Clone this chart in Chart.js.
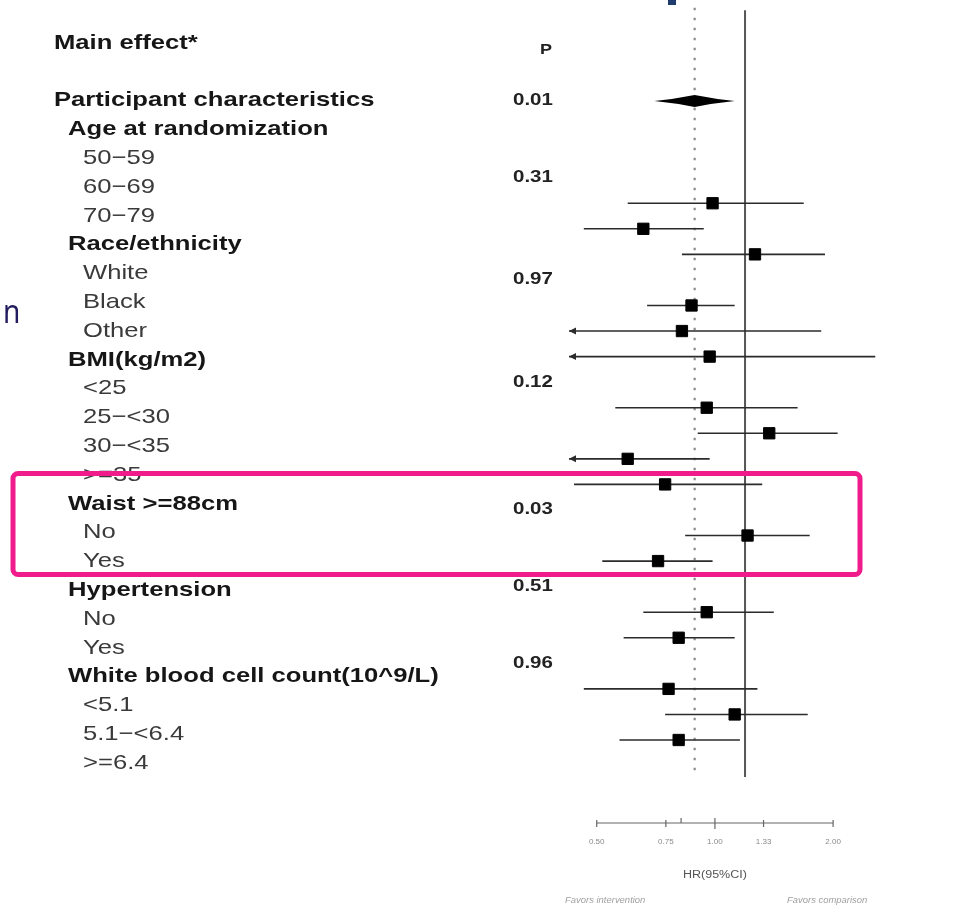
<!DOCTYPE html>
<html>
<head>
<meta charset="utf-8" />
<title>Forest plot</title>
<script src="https://cdn.jsdelivr.net/npm/chart.js@4.4.1/dist/chart.umd.min.js"></script>
<style>
    body {
        margin: 0;
        background: #ffffff;
    }
    #wrap {
        width: 976px;
        height: 909px;
    }
</style>
</head>
<body>
<div id="wrap"><canvas id="forest" width="976" height="909"></canvas></div>
<script>
    // left column, one entry per text row (level 0/1 = heading, 2 = sub item)
    const labelText = [
        'Main effect*', '',
        'Participant characteristics',
        'Age at randomization', '50\u221259', '60\u221269', '70\u221279',
        'Race/ethnicity', 'White', 'Black', 'Other',
        'BMI(kg/m2)', '<25', '25\u2212<30', '30\u2212<35', '>=35',
        'Waist >=88cm', 'No', 'Yes',
        'Hypertension', 'No', 'Yes',
        'White blood cell count(10^9/L)', '<5.1', '5.1\u2212<6.4', '>=6.4'
    ];
    const labelLevel = [0, 0, 0, 1, 2, 2, 2, 1, 2, 2, 2, 1, 2, 2, 2, 2, 1, 2, 2, 1, 2, 2, 1, 2, 2, 2];

    // P for interaction, placed on plot rows
    const pRows = [0, 3, 7, 11, 16, 19, 22];
    const pValues = ['0.01', '0.31', '0.97', '0.12', '0.03', '0.51', '0.96'];

    // main effect (diamond)
    const mainHR = 0.82;
    const mainLo = 0.70;
    const mainHi = 0.96;

    // subgroup estimates, hazard ratios with 95% CI, on plot rows
    const forestRows = [4, 5, 6, 8, 9, 10, 12, 13, 14, 15, 17, 18, 20, 21, 23, 24, 25];
    const hr    = [0.88, 0.67, 1.04, 0.81, 0.78, 0.87, 0.86, 1.10, 0.63, 0.73, 1.01, 0.71, 0.86, 0.77, 0.74, 0.96, 0.77];
    const lower = [0.63, 0.53, 0.78, 0.68, 0.45, 0.45, 0.60, 0.83, 0.45, 0.51, 0.79, 0.57, 0.67, 0.62, 0.53, 0.73, 0.61];
    const upper = [1.26, 0.85, 1.37, 0.96, 1.35, 1.67, 1.23, 1.44, 0.87, 1.07, 1.29, 0.88, 1.12, 0.96, 1.05, 1.28, 0.98];
    const plotMin = 0.5; // CIs below this get an arrow

    // the small HR axis under the plot
    const axisTicks = [0.5, 0.75, 1, 1.33, 2];
    const axisTickLabels = ['0.50', '0.75', '1.00', '1.33', '2.00'];

    const FONT = '"Liberation Sans", Arial, sans-serif';
    const indent = [54, 68, 83];

    function drawText(ctx, str, x, y, font, color, sx, align) {
        ctx.save();
        ctx.translate(x, y);
        ctx.scale(sx, 1);
        ctx.font = font;
        ctx.fillStyle = color;
        ctx.textAlign = align;
        ctx.textBaseline = 'middle';
        ctx.fillText(str, 0, 0);
        ctx.restore();
    }

    const forestPlugin = {
        id: 'forest',
        beforeDatasetsDraw(chart) {
            const ctx = chart.ctx;
            const x = chart.scales.x, y = chart.scales.y;
            const x2 = chart.scales.x2, y2 = chart.scales.y2;

            // labels
            labelText.forEach((t, i) => {
                if (!t) return;
                const lv = labelLevel[i];
                const bold = lv < 2;
                drawText(ctx, t, indent[lv], y2.getPixelForValue(i),
                    (bold ? 'bold ' : '') + '21px ' + FONT,
                    bold ? '#161616' : '#3a3a3a', 1.22, 'left');
            });

            // P column
            drawText(ctx, 'P', 546, y.getPixelForValue(-2), 'bold 15px ' + FONT, '#222', 1.2, 'center');
            pRows.forEach((r, i) => {
                drawText(ctx, pValues[i], 513, y.getPixelForValue(r), 'bold 16px ' + FONT, '#222', 1.28, 'left');
            });

            // reference lines
            ctx.save();
            ctx.strokeStyle = '#8a8a8a';
            ctx.lineWidth = 2.2;
            ctx.setLineDash([2.5, 7.5]);
            let px = x.getPixelForValue(mainHR);
            ctx.beginPath();
            ctx.moveTo(px, y.getPixelForValue(-3.65));
            ctx.lineTo(px, y.getPixelForValue(26.4));
            ctx.stroke();
            ctx.setLineDash([]);
            ctx.strokeStyle = '#555';
            ctx.lineWidth = 2;
            px = x.getPixelForValue(1);
            ctx.beginPath();
            ctx.moveTo(px, y.getPixelForValue(-3.55));
            ctx.lineTo(px, y.getPixelForValue(26.45));
            ctx.stroke();

            // confidence intervals
            ctx.strokeStyle = '#2b2b2b';
            ctx.fillStyle = '#2b2b2b';
            ctx.lineWidth = 1.6;
            forestRows.forEach((r, i) => {
                const py = y.getPixelForValue(r);
                const lo = Math.max(lower[i], plotMin);
                const xl = x.getPixelForValue(lo);
                ctx.beginPath();
                ctx.moveTo(xl, py);
                ctx.lineTo(x.getPixelForValue(upper[i]), py);
                ctx.stroke();
                if (lower[i] < plotMin) {
                    ctx.beginPath();
                    ctx.moveTo(xl, py);
                    ctx.lineTo(xl + 7, py - 3.5);
                    ctx.lineTo(xl + 7, py + 3.5);
                    ctx.closePath();
                    ctx.fill();
                }
            });

            // main effect diamond
            const dy = y.getPixelForValue(0);
            const dl = x.getPixelForValue(mainLo), dc = x.getPixelForValue(mainHR), dr = x.getPixelForValue(mainHi);
            ctx.fillStyle = '#000';
            ctx.beginPath();
            ctx.moveTo(dl, dy);
            ctx.quadraticCurveTo((dl + dc) / 2, dy - 2, dc, dy - 6);
            ctx.quadraticCurveTo((dc + dr) / 2, dy - 2, dr, dy);
            ctx.quadraticCurveTo((dc + dr) / 2, dy + 2, dc, dy + 6);
            ctx.quadraticCurveTo((dl + dc) / 2, dy + 2, dl, dy);
            ctx.fill();

            // small HR axis
            const ay = 823;
            ctx.strokeStyle = '#666';
            ctx.lineWidth = 1.2;
            ctx.beginPath();
            ctx.moveTo(x2.getPixelForValue(axisTicks[0]), ay);
            ctx.lineTo(x2.getPixelForValue(axisTicks[axisTicks.length - 1]), ay);
            ctx.stroke();
            axisTicks.forEach((t, i) => {
                const tx = x2.getPixelForValue(t);
                ctx.beginPath();
                ctx.moveTo(tx, ay - (t === 1 ? 5 : 3));
                ctx.lineTo(tx, ay + (t === 1 ? 6 : 4));
                ctx.stroke();
                drawText(ctx, axisTickLabels[i], tx, 842, '7px ' + FONT, '#8a8a8a', 1.15, 'center');
            });
            const mx = x2.getPixelForValue(mainHR);
            ctx.beginPath();
            ctx.moveTo(mx, ay - 5);
            ctx.lineTo(mx, ay);
            ctx.stroke();
            ctx.restore();

            drawText(ctx, 'HR(95%CI)', x2.getPixelForValue(1), 875, '10px ' + FONT, '#555', 1.25, 'center');
            drawText(ctx, 'Favors intervention', 565, 900, 'italic 9px ' + FONT, '#a0a0a0', 1.05, 'left');
            drawText(ctx, 'Favors comparison', 787, 900, 'italic 9px ' + FONT, '#a0a0a0', 1.05, 'left');

            // bits of the slide around the figure
            ctx.save();
            ctx.fillStyle = '#1f3c6e';
            ctx.fillRect(668, 0, 8, 5);
            ctx.translate(3, 323);
            ctx.scale(0.85, 1);
            ctx.font = '33px "Noto Sans", sans-serif';
            ctx.fillStyle = '#221d5e';
            ctx.textBaseline = 'alphabetic';
            ctx.fillText('n', 0, 0);
            ctx.restore();
        },
        afterDraw(chart) {
            const ctx = chart.ctx;
            ctx.save();
            ctx.strokeStyle = '#f01c8c';
            ctx.lineWidth = 5;
            ctx.beginPath();
            ctx.roundRect(13, 473.5, 847, 101, 5);
            ctx.stroke();
            ctx.restore();
        }
    };

    new Chart(document.getElementById('forest'), {
        type: 'scatter',
        data: {
            datasets: [{
                data: hr.map((v, i) => ({ x: v, y: forestRows[i] })),
                pointStyle: 'rect',
                pointRadius: 8,
                backgroundColor: '#000',
                borderColor: '#000',
                borderWidth: 1
            }]
        },
        options: {
            responsive: false,
            animation: false,
            events: [],
            layout: { padding: 0, autoPadding: false },
            plugins: {
                legend: { display: false },
                tooltip: { enabled: false }
            },
            scales: {
                x: { type: 'logarithmic', display: false, bounds: 'data', min: 0.0532, max: 2.483 },
                x2: { type: 'logarithmic', axis: 'x', display: false, bounds: 'data', min: 0.0151, max: 4.624 },
                y: { type: 'linear', display: false, reverse: true, bounds: 'data', min: -3.9515, max: 31.612 },
                y2: { type: 'linear', axis: 'y', display: false, reverse: true, bounds: 'data', min: -1.4931, max: 30.0694 }
            }
        },
        plugins: [forestPlugin]
    });
</script>
</body>
</html>
